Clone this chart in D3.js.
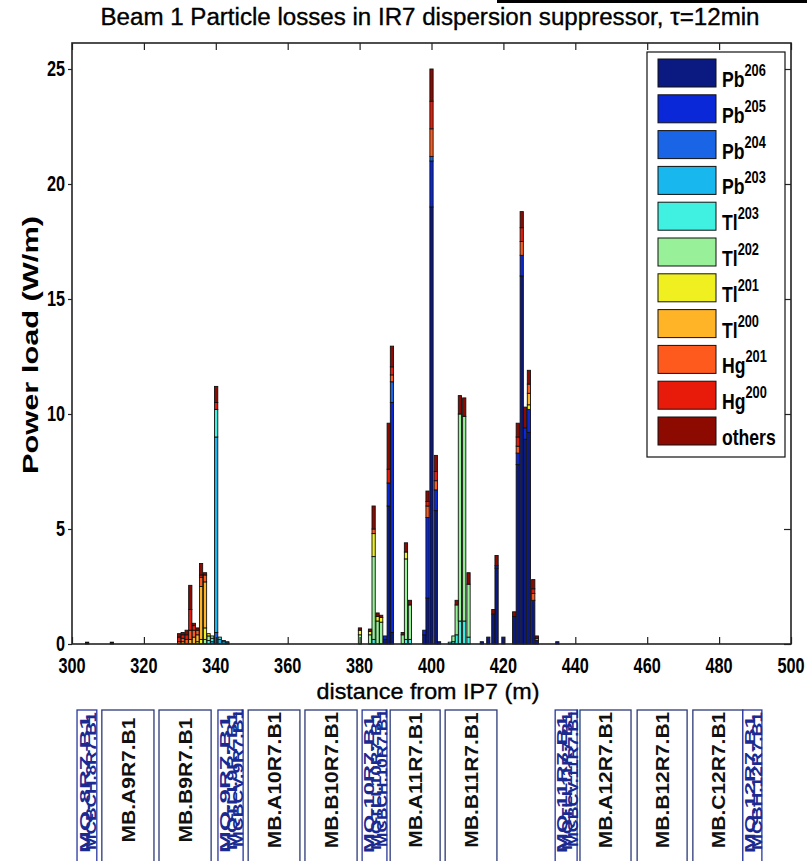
<!DOCTYPE html>
<html lang="en">
<head>
<meta charset="UTF-8" />
<title>Beam 1 Particle losses in IR7 dispersion suppressor</title>
<script src="https://d3js.org/d3.v7.min.js"></script>
<style>
    body { margin: 0; background: #fff; }
    svg { display: block; font-family: "Liberation Sans", Arial, sans-serif; }
</style>
</head>
<body>
<svg width="807" height="861"></svg>
<script>
// isotopes, bottom of the stack first
const isotopes = ["Pb206", "Pb205", "Pb204", "Pb203", "Tl203", "Tl202", "Tl201", "Tl200", "Hg201", "Hg200", "others"];
const isoName = ["Pb", "Pb", "Pb", "Pb", "Tl", "Tl", "Tl", "Tl", "Hg", "Hg", "others"];
const isoMass = ["206", "205", "204", "203", "203", "202", "201", "200", "201", "200", ""];
const colors = ["#0a1a80", "#0a28d8", "#1a64e6", "#18b8ee", "#40f0e0", "#98f098",
                "#f0f020", "#ffb428", "#ff5a1e", "#e81a0a", "#8c0a00"];

// bin centres (m from IP7)
const positions = [304.2, 311.1, 329.8, 330.8, 331.9, 332.9, 333.9, 334.9, 335.9, 337.0,
                   338.0, 339.0, 340.1, 341.1, 342.2, 343.2,
                   380.1, 382.9, 383.9, 385.0, 386.0, 387.1, 388.1, 389.0, 392.0, 392.9,
                   394.0, 398.0, 398.9, 400.0, 401.2, 402.1,
                   405.1, 406.1, 407.0, 407.9, 409.1, 410.3,
                   414.0, 415.8, 417.2, 418.1, 420.0, 423.0, 424.0, 425.1, 426.0, 427.1,
                   428.3, 429.3, 435.0];

// power load (W/m) per bin, columns in the order of `isotopes`
const loads = [
    [0, 0, 0, 0, 0, 0, 0, 0, 0, 0.04, 0.04],
    [0, 0, 0, 0, 0, 0, 0, 0, 0, 0.04, 0.04],
    [0, 0, 0, 0, 0, 0, 0, 0, 0.1, 0.2, 0.15],
    [0, 0, 0, 0, 0, 0, 0, 0.1, 0.15, 0.15, 0.1],
    [0, 0, 0, 0, 0, 0, 0, 0, 0.2, 0.2, 0.2],
    [0, 0, 0, 0, 0, 0, 0, 0.2, 0.4, 0.9, 1.05],
    [0, 0, 0, 0, 0, 0, 0, 0.3, 0.3, 0.2, 0.1],
    [0, 0, 0, 0, 0, 0, 0.1, 0.3, 0.2, 0, 0.1],
    [0, 0, 0, 0, 0, 0, 0.2, 2.3, 0.4, 0.1, 0.5],
    [0, 0, 0, 0, 0, 0.2, 0.5, 2.0, 0.3, 0, 0.1],
    [0, 0, 0, 0, 0.15, 0.2, 0.1, 0, 0, 0, 0],
    [0, 0, 0, 0.1, 0.15, 0.1, 0, 0, 0, 0, 0],
    [0, 0, 0.5, 8.5, 1.2, 0, 0, 0, 0, 0.3, 0.7],
    [0, 0, 0, 0.2, 0.1, 0, 0, 0, 0, 0, 0],
    [0, 0, 0, 0.1, 0.05, 0, 0, 0, 0, 0, 0],
    [0, 0, 0.05, 0.05, 0, 0, 0, 0, 0, 0, 0],
    [0, 0, 0, 0, 0, 0.4, 0.2, 0, 0, 0, 0.1],
    [0, 0, 0, 0, 0, 0.4, 0.15, 0, 0, 0, 0.1],
    [0, 0, 0, 0, 0.2, 3.6, 1.0, 0, 0.2, 0, 1.0],
    [0, 0, 0, 0, 0, 1.0, 0.2, 0, 0, 0, 0.15],
    [0, 0, 0, 0, 0, 0.95, 0.2, 0, 0, 0, 0.1],
    [0.2, 0.15, 0, 0, 0, 0, 0, 0, 0, 0, 0],
    [6.0, 1.0, 0, 0, 0, 0, 0, 0, 0, 0.6, 2.0],
    [0.5, 10.0, 0.9, 0, 0, 0, 0, 0, 0.3, 0.35, 0.9],
    [0, 0, 0, 0, 0, 0.4, 0, 0, 0, 0, 0.1],
    [0, 0, 0, 0, 0.2, 3.5, 0.3, 0, 0, 0, 0.4],
    [0, 0, 0, 0, 0.2, 1.5, 0, 0, 0, 0, 0.2],
    [0.4, 0.2, 0, 0, 0, 0, 0, 0, 0, 0, 0],
    [2.0, 3.5, 0, 0, 0, 0, 0, 0, 0.5, 0.2, 0.45],
    [19.0, 2.0, 0.2, 0, 0, 0, 0, 0, 1.2, 1.2, 1.4],
    [5.8, 0.9, 0, 0, 0, 0, 0, 0, 0.4, 0.4, 0.7],
    [0.1, 0, 0, 0, 0, 0, 0, 0, 0, 0, 0],
    [0, 0, 0, 0, 0.08, 0, 0, 0, 0, 0, 0],
    [0, 0, 0, 0, 0.1, 0.25, 0, 0, 0, 0, 0],
    [0, 0, 0, 0, 0.4, 1.3, 0, 0, 0, 0, 0.2],
    [0, 0, 0, 0, 1.0, 9.0, 0, 0, 0, 0, 0.8],
    [0, 0, 0, 0, 1.0, 8.9, 0, 0, 0, 0, 0.8],
    [0, 0, 0, 0, 0.3, 2.3, 0, 0, 0, 0, 0.5],
    [0.1, 0, 0, 0, 0, 0, 0, 0, 0, 0, 0],
    [0.3, 0, 0, 0, 0, 0, 0, 0, 0, 0, 0],
    [1.3, 0, 0, 0, 0, 0, 0, 0, 0, 0, 0.2],
    [3.3, 0.1, 0, 0, 0, 0, 0, 0, 0, 0, 0.45],
    [0.3, 0, 0, 0, 0, 0, 0, 0, 0, 0, 0],
    [1.2, 0, 0, 0, 0, 0, 0, 0, 0, 0, 0.2],
    [7.8, 0.5, 0, 0, 0, 0, 0, 0, 0.3, 0.4, 0.6],
    [16.0, 0.9, 0, 0, 0, 0, 0, 0, 0.6, 0.6, 0.7],
    [8.9, 0.5, 0, 0, 0, 0, 0, 0, 0, 0, 0.9],
    [9.2, 1.0, 0, 0, 0, 0, 0.2, 0.5, 0.4, 0, 0.6],
    [1.9, 0, 0, 0, 0, 0, 0, 0, 0.3, 0.2, 0.4],
    [0.15, 0, 0, 0, 0, 0, 0, 0, 0.1, 0, 0.1],
    [0.1, 0, 0, 0, 0, 0, 0, 0, 0, 0, 0]
];

const xTicks = d3.range(300, 501, 20);
const yTicks = [0, 5, 10, 15, 20, 25];

// magnet layout under the axis (m)
const dipoles = ["MB.A9R7.B1", "MB.B9R7.B1", "MB.A10R7.B1", "MB.B10R7.B1", "MB.A11R7.B1",
                 "MB.B11R7.B1", "MB.A12R7.B1", "MB.B12R7.B1", "MB.C12R7.B1"];
const dipoleFrom = [308.3, 324.2, 349.0, 364.8, 388.5, 403.8, 441.3, 457.2, 472.7];
const dipoleTo = [322.8, 338.7, 363.4, 379.3, 402.4, 418.2, 455.5, 471.1, 486.6];
const quads = [["MQ.8R7.B1", "MCBCH.8R7.B1"],
               ["MQ.9R7.B1", "MQTLI.9R7.B1", "MCBCV.9R7.B1"],
               ["MQ.10R7.B1", "MQTLI.10R7.B1", "MCBCH.10R7.B1"],
               ["MQ.11R7.B1", "MQTLI.11R7.B1", "MCBCV.11R7.B1"],
               ["MQ.12R7.B1", "MCBH.12R7.B1"]];
const quadFrom = [301.4, 340.6, 380.7, 434.4, 486.6];
const quadTo = [306.9, 347.6, 387.6, 440.5, 491.9];

const barWidth = 0.9;

const margin = { top: 43, right: 16, bottom: 217, left: 72 };
const width = 807 - margin.left - margin.right;
const height = 861 - margin.top - margin.bottom;

const svg = d3.select("svg");
const g = svg.append("g").attr("transform", `translate(${margin.left},${margin.top})`);

const x = d3.scaleLinear().domain([300, 500]).range([0, width]);
const y = d3.scaleLinear().domain([0, height / 23]).range([height, 0]);

// stacked bars
const table = positions.map((p, i) => {
    const row = { pos: p };
    isotopes.forEach((k, j) => (row[k] = loads[i][j]));
    return row;
});
const stacked = d3.stack().keys(isotopes)(table);

g.selectAll("g.layer")
    .data(stacked)
    .join("g")
    .attr("class", "layer")
    .attr("fill", (d, i) => colors[i])
    .selectAll("rect")
    .data((d) => d.filter((s) => s[1] > s[0]))
    .join("rect")
    .attr("x", (d) => x(d.data.pos - barWidth / 2))
    .attr("width", x(300 + barWidth) - x(300))
    .attr("y", (d) => y(d[1]))
    .attr("height", (d) => y(d[0]) - y(d[1]))
    .attr("stroke", "#111")
    .attr("stroke-width", 0.9);

// axes box and ticks (matlab style)
g.append("g")
    .attr("transform", `translate(0,${height})`)
    .call(d3.axisBottom(x).tickValues(xTicks).tickSize(-7).tickFormat(""))
    .call((a) => a.select(".domain").remove());
g.append("g")
    .call(d3.axisTop(x).tickValues(xTicks).tickSize(-7).tickFormat(""))
    .call((a) => a.select(".domain").remove());
g.append("g")
    .call(d3.axisLeft(y).tickValues(yTicks).tickSize(4).tickFormat(""))
    .call((a) => a.select(".domain").remove());
g.append("g")
    .attr("transform", `translate(${width},0)`)
    .call(d3.axisRight(y).tickValues(yTicks).tickSize(-7).tickFormat(""))
    .call((a) => a.select(".domain").remove());
g.selectAll(".tick line").attr("stroke", "#222").attr("stroke-width", 1.2);

g.append("rect")
    .attr("width", width)
    .attr("height", height)
    .attr("fill", "none")
    .attr("stroke", "#222")
    .attr("stroke-width", 1.6);

// tick labels
g.selectAll(".xlab")
    .data(xTicks)
    .join("text")
    .attr("transform", (d) => `translate(${x(d)},${height + 29}) scale(0.74,1)`)
    .attr("text-anchor", "middle")
    .attr("font-size", 22)
    .attr("font-weight", "bold")
    .text((d) => d);
g.selectAll(".ylab")
    .data(yTicks)
    .join("text")
    .attr("transform", (d) => `translate(-7,${y(d) + 7}) scale(0.74,1)`)
    .attr("text-anchor", "end")
    .attr("font-size", 22)
    .attr("font-weight", "bold")
    .text((d) => d);

// titles
svg.append("text")
    .attr("x", 430)
    .attr("y", 25)
    .attr("text-anchor", "middle")
    .attr("font-size", 23)
    .attr("stroke", "#000")
    .attr("stroke-width", 0.35)
    .attr("textLength", 659)
    .attr("lengthAdjust", "spacingAndGlyphs")
    .text("Beam 1 Particle losses in IR7 dispersion suppressor, \u03c4=12min");
svg.append("text")
    .attr("x", 428)
    .attr("y", 699)
    .attr("text-anchor", "middle")
    .attr("font-size", 22)
    .attr("stroke", "#000")
    .attr("stroke-width", 0.35)
    .attr("textLength", 223)
    .attr("lengthAdjust", "spacingAndGlyphs")
    .text("distance from IP7 (m)");
svg.append("text")
    .attr("transform", "translate(38,345) rotate(-90)")
    .attr("text-anchor", "middle")
    .attr("font-size", 22)
    .attr("font-weight", "bold")
    .attr("textLength", 258)
    .attr("lengthAdjust", "spacingAndGlyphs")
    .text("Power load (W/m)");

// black strip at the top right
svg.append("rect").attr("x", 497).attr("y", 0).attr("width", 310).attr("height", 3).attr("fill", "#000");

// legend
const legend = svg.append("g").attr("transform", "translate(647,52)");
legend.append("rect")
    .attr("width", 138)
    .attr("height", 405)
    .attr("fill", "#fff")
    .attr("stroke", "#111")
    .attr("stroke-width", 1.2);
const item = legend.selectAll(".item")
    .data(isotopes)
    .join("g")
    .attr("transform", (d, i) => `translate(11,${7 + i * 35.8})`);
item.append("rect")
    .attr("width", 58)
    .attr("height", 28)
    .attr("fill", (d, i) => colors[i])
    .attr("stroke", "#111")
    .attr("stroke-width", 1);
const lt = item.append("text")
    .attr("transform", "translate(64,28) scale(0.8,1)")
    .attr("font-size", 22)
    .attr("font-weight", "bold");
lt.append("tspan").text((d, i) => isoName[i]);
lt.append("tspan")
    .attr("dy", -11)
    .attr("font-size", 16)
    .text((d, i) => isoMass[i]);

// magnet boxes
const mag = svg.append("g");
const boxTop = 710;
const boxBottom = 870;
dipoles.forEach((name, i) => {
    const x0 = margin.left + x(dipoleFrom[i]);
    const x1 = margin.left + x(dipoleTo[i]);
    mag.append("rect")
        .attr("x", x0)
        .attr("y", boxTop)
        .attr("width", x1 - x0)
        .attr("height", boxBottom - boxTop)
        .attr("fill", "#fff")
        .attr("stroke", "#2b3a78")
        .attr("stroke-width", 1.3);
    mag.append("text")
        .attr("transform", `translate(${(x0 + x1) / 2 + 7},780) scale(0.9,1) rotate(-90)`)
        .attr("text-anchor", "middle")
        .attr("font-size", 21)
        .attr("font-weight", "bold")
        .attr("fill", "#111")
        .text(name);
});
quads.forEach((names, i) => {
    const x0 = margin.left + x(quadFrom[i]);
    const x1 = margin.left + x(quadTo[i]);
    mag.append("rect")
        .attr("x", x0)
        .attr("y", boxTop)
        .attr("width", x1 - x0)
        .attr("height", boxBottom - boxTop)
        .attr("fill", "#fff")
        .attr("stroke", "#2838a0")
        .attr("stroke-width", 1.3);
    names.forEach((nm, j) => {
        const cx = x0 + ((j + 1) * (x1 - x0)) / (names.length + 1) + 6;
        mag.append("text")
            .attr("transform", `translate(${cx},${784 - j * 3}) scale(0.8,1) rotate(-90)`)
            .attr("text-anchor", "middle")
            .attr("font-size", 18)
            .attr("font-weight", "bold")
            .attr("fill", "#1a2a90")
            .attr("textLength", 138)
            .attr("lengthAdjust", "spacingAndGlyphs")
            .text(nm);
    });
});
</script>
</body>
</html>
